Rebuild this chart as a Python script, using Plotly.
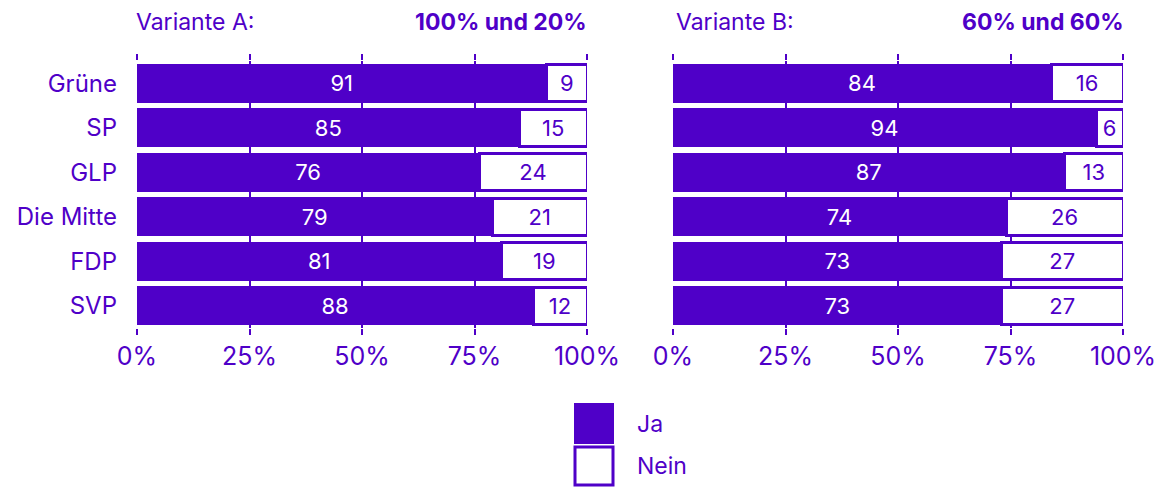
import plotly.graph_objects as go
from plotly.subplots import make_subplots

# data
parties = ["Grüne", "SP", "GLP", "Die Mitte", "FDP", "SVP"]
ja_a = [91, 85, 76, 79, 81, 88]
nein_a = [9, 15, 24, 21, 19, 12]
ja_b = [84, 94, 87, 74, 73, 73]
nein_b = [16, 6, 13, 26, 27, 27]
tick_vals = [0, 25, 50, 75, 100]
tick_text = ["0%", "25%", "50%", "75%", "100%"]

PURPLE = "#4f00c8"
FONT = "Inter"
W, H = 1163, 487
OFF = 8  # page body margin


def px(x):
    return (x - OFF) / W


def py(y):
    return 1 - (y - OFF) / H


fig = make_subplots(rows=1, cols=2, horizontal_spacing=0.07)

for col, ja, nein in [(1, ja_a, nein_a), (2, ja_b, nein_b)]:
    fig.add_trace(go.Bar(
        y=parties, x=ja, orientation="h", name="Ja",
        marker=dict(color=PURPLE, line=dict(color=PURPLE, width=2)),
        text=ja, textposition="inside", insidetextanchor="middle",
        textangle=0, textfont=dict(color="white", size=22, family=FONT),
        showlegend=False, hoverinfo="x+y",
    ), row=1, col=col)
    fig.add_trace(go.Bar(
        y=parties, x=nein, orientation="h", name="Nein",
        marker=dict(color="white", line=dict(color=PURPLE, width=3)),
        text=nein, textposition="inside", insidetextanchor="middle",
        textangle=0, textfont=dict(color=PURPLE, size=22, family=FONT),
        showlegend=False, hoverinfo="x+y",
    ), row=1, col=col)

xdoms = [[px(137), px(587)], [px(673), px(1123)]]
ydom = [py(328), py(61)]

for i, col in enumerate([1, 2]):
    fig.update_xaxes(
        row=1, col=col, domain=xdoms[i], range=[0, 100],
        tickvals=tick_vals, ticktext=tick_text,
        showgrid=True, gridcolor=PURPLE, gridwidth=1.5,
        ticks="outside", ticklen=6, tickcolor=PURPLE, tickwidth=1.5,
        mirror="ticks", showline=False, zeroline=False,
        tickfont=dict(size=25, color=PURPLE, family=FONT),
        automargin=False, fixedrange=True,
    )
    fig.update_yaxes(
        row=1, col=col, domain=ydom, autorange="reversed",
        showgrid=False, zeroline=False, showline=False,
        showticklabels=(col == 1), ticks="",
        ticklabelstandoff=19,
        tickfont=dict(size=24, color=PURPLE, family=FONT),
        automargin=False, fixedrange=True,
    )

annotations = [
    dict(text="Variante A:", x=px(134), y=py(22), xanchor="left", yanchor="middle",
         font=dict(size=23, color=PURPLE, family=FONT)),
    dict(text="<b>100% und 20%</b>", x=px(589), y=py(22), xanchor="right", yanchor="middle",
         font=dict(size=23, color=PURPLE, family=FONT)),
    dict(text="Variante B:", x=px(674), y=py(22), xanchor="left", yanchor="middle",
         font=dict(size=23, color=PURPLE, family=FONT)),
    dict(text="<b>60% und 60%</b>", x=px(1126), y=py(22), xanchor="right", yanchor="middle",
         font=dict(size=23, color=PURPLE, family=FONT)),
    dict(text="Ja", x=px(635), y=py(424), xanchor="left", yanchor="middle",
         font=dict(size=23, color=PURPLE, family=FONT)),
    dict(text="Nein", x=px(635), y=py(466), xanchor="left", yanchor="middle",
         font=dict(size=23, color=PURPLE, family=FONT)),
]
for a in annotations:
    a.update(xref="paper", yref="paper", showarrow=False)

# legend swatches
shapes = [
    dict(type="rect", xref="paper", yref="paper",
         x0=px(575), x1=px(613), y0=py(443), y1=py(404),
         fillcolor=PURPLE, line=dict(color=PURPLE, width=2)),
    dict(type="rect", xref="paper", yref="paper",
         x0=px(575), x1=px(613), y0=py(485), y1=py(447),
         fillcolor="white", line=dict(color=PURPLE, width=3)),
]

fig.update_layout(
    width=W, height=H,
    margin=dict(l=0, r=0, t=0, b=0, autoexpand=False),
    paper_bgcolor="white", plot_bgcolor="white",
    barmode="stack", bargap=0.17,
    annotations=annotations, shapes=shapes,
    showlegend=False,
    uniformtext=dict(mode=False),
    font=dict(family=FONT, color=PURPLE),
)

fig.write_html("out.html")
